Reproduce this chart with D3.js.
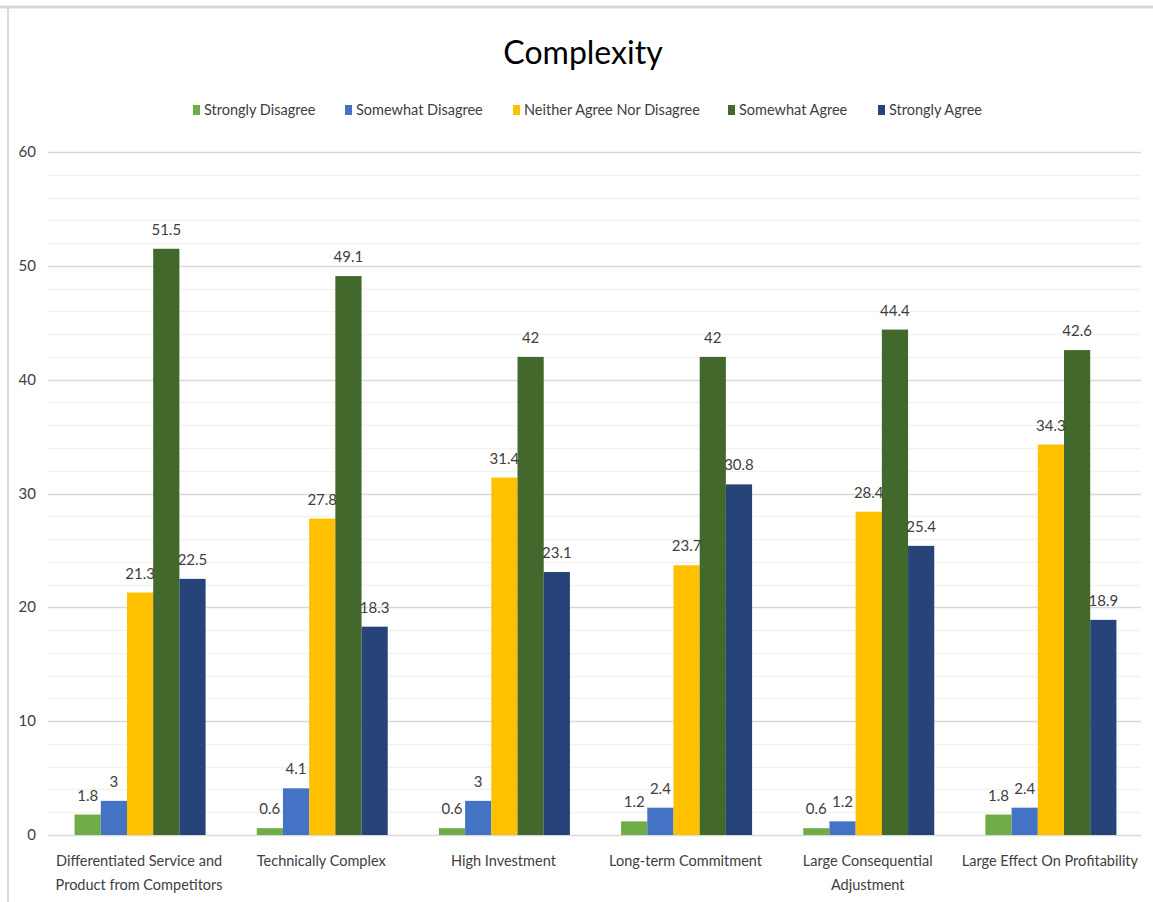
<!DOCTYPE html>
<html>
<head>
<meta charset="utf-8">
<script src="https://cdn.jsdelivr.net/npm/d3@7"></script>
<style>
  body { margin: 0; background: #fff; }
  text { font-family: Lato, "Open Sans", sans-serif; }
</style>
</head>
<body>
<div id="chart"></div>
<script>
var categories = [
  ["Differentiated Service and", "Product from Competitors"],
  ["Technically Complex"],
  ["High Investment"],
  ["Long-term Commitment"],
  ["Large Consequential", "Adjustment"],
  ["Large Effect On Profitability"]
];
var seriesNames = ["Strongly Disagree", "Somewhat Disagree", "Neither Agree Nor Disagree", "Somewhat Agree", "Strongly Agree"];
var stronglyDisagree = [1.8, 0.6, 0.6, 1.2, 0.6, 1.8];
var somewhatDisagree = [3, 4.1, 3, 2.4, 1.2, 2.4];
var neither = [21.3, 27.8, 31.4, 23.7, 28.4, 34.3];
var somewhatAgree = [51.5, 49.1, 42, 42, 44.4, 42.6];
var stronglyAgree = [22.5, 18.3, 23.1, 30.8, 25.4, 18.9];
var yTicks = [0, 10, 20, 30, 40, 50, 60];

var colors = ["#70ad47", "#4472c4", "#ffc000", "#43682b", "#264478"];
var series = [stronglyDisagree, somewhatDisagree, neither, somewhatAgree, stronglyAgree];

var width = 1153, height = 902;
var plotLeft = 48, plotRight = 1141, plotTop = 152, plotBottom = 835;

var svg = d3.select('#chart').append('svg')
  .attr('width', width)
  .attr('height', height);

// frame
svg.append('line').attr('x1', 0).attr('x2', width).attr('y1', 7).attr('y2', 7)
  .attr('stroke', '#d9d9d9').attr('stroke-width', 3);
svg.append('line').attr('x1', 8).attr('x2', 8).attr('y1', 7).attr('y2', height)
  .attr('stroke', '#d9d9d9').attr('stroke-width', 2);

var y = d3.scaleLinear().domain([0, 60]).range([plotBottom, plotTop]);
var x0 = d3.scaleBand().domain(d3.range(categories.length)).range([plotLeft, plotRight]);
// bar cluster ~131px wide inside each 182px category
var x1 = d3.scaleBand().domain(d3.range(series.length))
  .range([(x0.bandwidth() - 131) / 2 + 1, (x0.bandwidth() + 131) / 2 + 1]);

// gridlines
var minor = d3.range(2, 60, 2).filter(function(d) { return d % 10 !== 0; });
svg.selectAll('.minor').data(minor).enter().append('line')
  .attr('x1', plotLeft).attr('x2', plotRight)
  .attr('y1', function(d) { return Math.round(y(d)) + 0.5; })
  .attr('y2', function(d) { return Math.round(y(d)) + 0.5; })
  .attr('stroke', '#f2f2f2').attr('stroke-width', 1.5);
svg.selectAll('.major').data(yTicks).enter().append('line')
  .attr('x1', plotLeft).attr('x2', plotRight)
  .attr('y1', function(d) { return Math.round(y(d)) + 0.5; })
  .attr('y2', function(d) { return Math.round(y(d)) + 0.5; })
  .attr('stroke', '#d9d9d9').attr('stroke-width', 1.5);

// y labels
svg.selectAll('.ylab').data(yTicks).enter().append('text')
  .attr('x', 36).attr('y', function(d) { return y(d) + 5; })
  .attr('text-anchor', 'end')
  .attr('font-size', 15).attr('fill', '#404040')
  .text(function(d) { return d; });

// bars
var groups = svg.selectAll('.grp').data(categories).enter().append('g')
  .attr('transform', function(d, i) { return 'translate(' + x0(i) + ',0)'; });

groups.each(function(c, ci) {
  var g = d3.select(this);
  var vals = series.map(function(s) { return s[ci]; });
  g.selectAll('rect').data(vals).enter().append('rect')
    .attr('x', function(d, si) { return x1(si); })
    .attr('y', function(d) { return y(d); })
    .attr('width', x1.bandwidth())
    .attr('height', function(d) { return plotBottom - y(d); })
    .attr('fill', function(d, si) { return colors[si]; });
  g.selectAll('.val').data(vals).enter().append('text')
    .attr('x', function(d, si) { return x1(si) + x1.bandwidth() / 2; })
    .attr('y', function(d) { return y(d) - 14; })
    .attr('text-anchor', 'middle')
    .attr('font-size', 15).attr('fill', '#404040')
    .text(function(d) { return d; });
  var lab = g.append('text')
    .attr('text-anchor', 'middle')
    .attr('font-size', 14.5).attr('fill', '#404040');
  c.forEach(function(line, li) {
    lab.append('tspan').attr('x', x0.bandwidth() / 2).attr('y', 866 + li * 24).text(line);
  });
});

// title
svg.append('text').attr('x', 583).attr('y', 64)
  .attr('text-anchor', 'middle').attr('font-size', 32).attr('fill', '#000')
  .text('Complexity');

// legend
var legendX = [193, 345, 513, 728, 878];
var lg = svg.selectAll('.leg').data(seriesNames).enter().append('g')
  .attr('transform', function(d, i) { return 'translate(' + legendX[i] + ',110)'; });
lg.append('rect').attr('x', 0).attr('y', -5).attr('width', 7).attr('height', 10)
  .attr('fill', function(d, i) { return colors[i]; });
lg.append('text').attr('x', 11).attr('y', 5)
  .attr('font-size', 14.5).attr('fill', '#404040')
  .text(function(d) { return d; });
</script>
</body>
</html>
